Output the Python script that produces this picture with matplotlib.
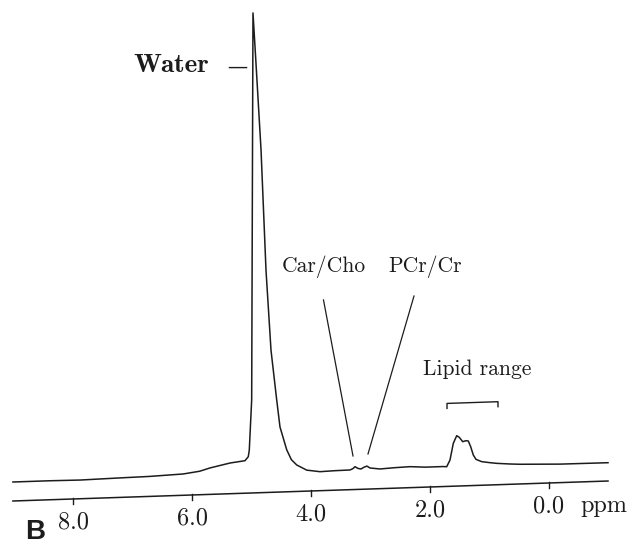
import numpy as np
import matplotlib
matplotlib.use("Agg")
import matplotlib.pyplot as plt
from matplotlib.transforms import Affine2D

# 1H spectrum, chemical shift (ppm) vs. signal height (a.u., 0 = baseline axis)
ppm = [9.01, 8.39, 7.88, 7.21, 6.71, 6.15, 5.87, 5.70, 5.36, 5.11,
       5.054, 5.037, 4.997, 4.983, 4.975, 4.929, 4.84, 4.756, 4.672, 4.576,
       4.521, 4.408, 4.33, 4.24, 4.072, 3.849, 3.597, 3.345, 3.294, 3.261,
       3.21, 3.16, 3.109, 3.059, 3.008, 2.84, 2.588, 2.336, 2.084, 1.782,
       1.719, 1.664, 1.608, 1.551, 1.508, 1.45, 1.395, 1.356, 1.316, 1.272,
       1.227, 1.131, 0.992, 0.879, 0.655, 0.487, -0.185, -0.992]
signal = [19.0, 19.0, 18.7, 19.5, 20.0, 21.3, 23.5, 26.4, 30.7, 32.5,
          36.4, 43.1, 93.0, 343.0, 480.0, 434.0, 343.0, 222.0, 142.0, 92.0,
          65.0, 42.0, 32.0, 26.5, 21.0, 19.0, 19.5, 19.7, 21.0, 22.8,
          21.0, 20.3, 22.0, 23.0, 21.0, 19.7, 20.5, 21.0, 20.0, 20.0,
          19.7, 26.3, 42.9, 50.4, 48.7, 44.2, 45.1, 44.7, 38.9, 30.5,
          26.1, 23.6, 22.3, 21.4, 20.3, 19.7, 18.5, 18.3]

ticks = [8.0, 6.0, 4.0, 2.0, 0.0]
tick_labels = ["8.0", "6.0", "4.0", "2.0", "0.0"]
lipid_range = (1.714, 0.857)

ink = "#1c1c1c"
serif = ["cmr10", "DejaVu Serif"]

fig = plt.figure(figsize=(6.33, 5.44), dpi=100)
ax = fig.add_axes([0, 0, 1, 1])
ax.set_xlim(9.227, -1.412)
ax.set_ylim(-43, 501)
ax.axis("off")

# the printed page is slightly skewed: everything leans up to the right
s = 0.0336
skew = ax.transData + Affine2D(np.array([[1, 0, 0], [s, 1, -s * 13], [0, 0, 1]]))

ax.plot(ppm, signal, color=ink, lw=1.1, transform=skew)

# shift axis with ticks
ax.plot([ppm[0], ppm[-1]], [0, 0], color=ink, lw=1.1, transform=skew)
for t, lab in zip(ticks, tick_labels):
    ax.plot([t, t], [1, -5], color=ink, lw=1.0, transform=skew)
    ax.text(t, -30, lab, ha="center", va="baseline", fontsize=17.5,
            family=serif, color=ink, transform=skew)
ax.text(-0.52, -30, "ppm", ha="left", va="baseline", fontsize=17.5,
        family=serif, color=ink, transform=skew)

# peak labels
ax.text(6.99, 424.5, "Water", ha="left", va="baseline", fontsize=19.5,
        family="cmb10", color=ink, transform=skew)
ax.text(5.235, 417.8, "\u2013", ha="center", va="baseline", fontsize=26,
        family="Liberation Serif", color=ink, transform=skew)

ax.text(3.78, 218.6, "Car/Cho", ha="center", va="baseline", fontsize=15.5,
        family=serif, color=ink, transform=skew)
ax.text(2.076, 215.1, "PCr/Cr", ha="center", va="baseline", fontsize=15.5,
        family=serif, color=ink, transform=skew)
ax.plot([3.79, 3.294], [190.6, 33.6], color=ink, lw=0.9, transform=skew)
ax.plot([2.269, 3.042], [191.5, 35.1], color=ink, lw=0.9, transform=skew)

ax.text(1.21, 110.4, "Lipid range", ha="center", va="baseline", fontsize=15.5,
        family=serif, color=ink, transform=skew)
lo, hi = lipid_range
ax.plot([lo, lo, hi, hi], [78, 83, 83, 78], color=ink, lw=1.0, transform=skew)

fig.text(25 / 633, 5 / 544, "B", ha="left", va="baseline", fontsize=20,
         fontweight="bold", family="Liberation Sans", color=ink)

fig.savefig("out.png", dpi=100, facecolor="white")
